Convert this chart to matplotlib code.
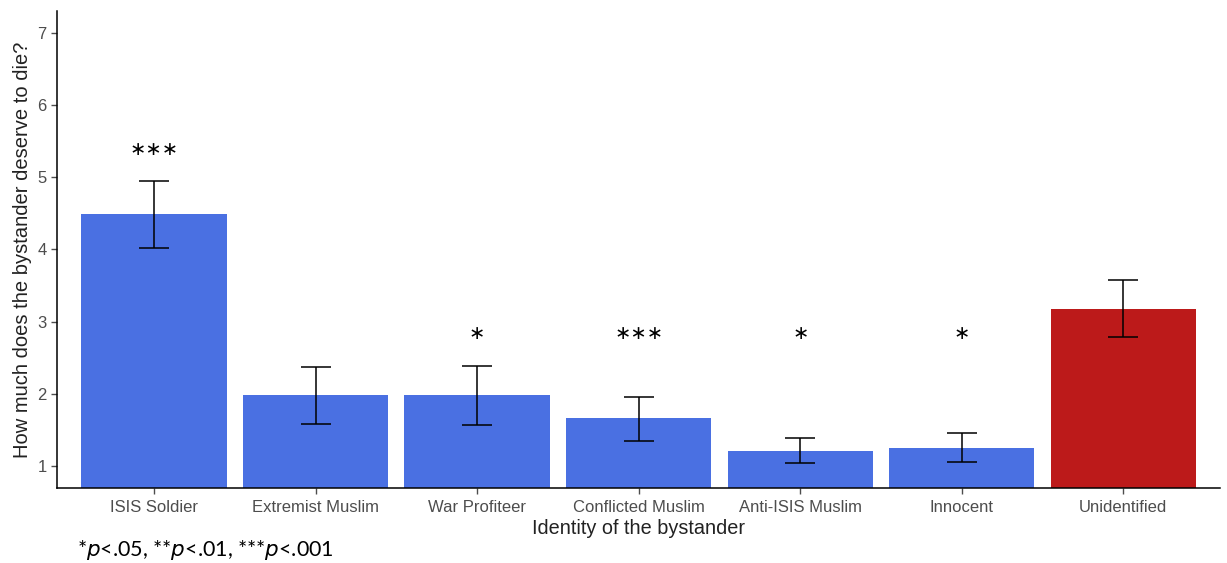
import matplotlib.pyplot as plt

categories = ["ISIS Soldier", "Extremist Muslim", "War Profiteer", "Conflicted Muslim",
              "Anti-ISIS Muslim", "Innocent", "Unidentified"]
means = [4.49, 1.98, 1.98, 1.66, 1.21, 1.25, 3.17]
lower = [4.02, 1.58, 1.57, 1.35, 1.04, 1.06, 2.79]
upper = [4.95, 2.37, 2.38, 1.96, 1.38, 1.45, 3.57]
stars = ["\u2217\u2217\u2217", "", "\u2217", "\u2217\u2217\u2217", "\u2217", "\u2217", ""]
star_y = [5.38, 0, 2.84, 2.84, 2.84, 2.84, 0]

blue = "#4A70E2"
red = "#BC1A1A"
colors = [blue] * 6 + [red]

plt.rcParams["font.family"] = ["Liberation Sans", "DejaVu Sans"]

fig = plt.figure(figsize=(12.27, 5.63), dpi=100)
ax = fig.add_axes([0.0465, 0.134, 0.948, 0.846])

x = list(range(1, len(categories) + 1))
ax.bar(x, means, width=0.9, color=colors, zorder=1)
yerr = [[m - l for m, l in zip(means, lower)], [u - m for m, u in zip(means, upper)]]
ax.errorbar(x, means, yerr=yerr, fmt="none", ecolor="black", elinewidth=1.1,
            capsize=10.8, capthick=1.1, zorder=2)

for xi, s, sy in zip(x, stars, star_y):
    if s:
        ax.text(xi, sy, s, ha="center", va="center", fontsize=14,
                family=["DejaVu Sans"], color="black")

ax.set_xlim(0.4, 7.6)
ax.set_ylim(0.7, 7.3)
ax.set_xticks(x)
ax.set_xticklabels(categories)
ax.set_yticks([1, 2, 3, 4, 5, 6, 7])
ax.tick_params(axis="both", colors="#4d4d4d", labelsize=12, length=4, width=1)
ax.tick_params(axis="x", pad=5)
for side in ["top", "right"]:
    ax.spines[side].set_visible(False)
for side in ["left", "bottom"]:
    ax.spines[side].set_linewidth(1.1)
    ax.spines[side].set_color("black")

ax.set_xlabel("Identity of the bystander", fontsize=14.3, color="#222222", labelpad=3)
ax.set_ylabel("How much does the bystander deserve to die?", fontsize=14.5,
              color="#222222", labelpad=4)

fig.text(0.063, 0.012, "*$p$<.05, **$p$<.01, ***$p$<.001", fontsize=15.5,
         family=["Lato", "DejaVu Sans"], color="black")

fig.savefig("out.png", dpi=100)
